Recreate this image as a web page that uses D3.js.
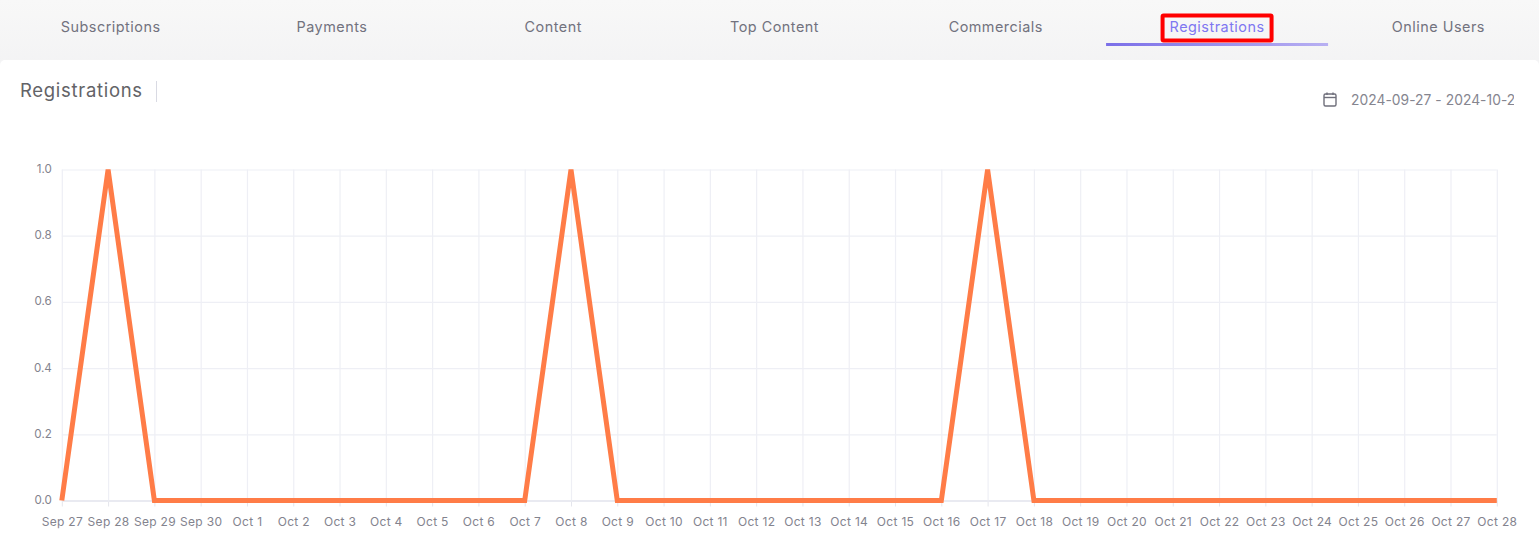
<!DOCTYPE html>
<html><head><meta charset="utf-8">
<script src="https://cdn.jsdelivr.net/npm/d3@7/dist/d3.min.js"></script>
<style>
html,body{margin:0;padding:0;background:#fff;overflow:hidden}
svg{display:block;font-family:Inter,"Open Sans",sans-serif}
</style></head><body><svg id="c" width="1539" height="554"></svg>
<script>
const tabs=["Subscriptions","Payments","Content","Top Content","Commercials","Registrations","Online Users"];
const activeTab="Registrations";
const title="Registrations";
const dateRange="2024-09-27 - 2024-10-27";
const categories=["Sep 27","Sep 28","Sep 29","Sep 30","Oct 1","Oct 2","Oct 3","Oct 4","Oct 5","Oct 6","Oct 7","Oct 8","Oct 9","Oct 10","Oct 11","Oct 12","Oct 13","Oct 14","Oct 15","Oct 16","Oct 17","Oct 18","Oct 19","Oct 20","Oct 21","Oct 22","Oct 23","Oct 24","Oct 25","Oct 26","Oct 27","Oct 28"];
const values=[0,1,0,0,0,0,0,0,0,0,0,1,0,0,0,0,0,0,0,0,1,0,0,0,0,0,0,0,0,0,0,0];
const yTicks=[0,0.2,0.4,0.6,0.8,1.0];

const svg=d3.select("#c");
const defs=svg.append("defs");
const bg=defs.append("linearGradient").attr("id","hdr").attr("x1",0).attr("x2",0).attr("y1",0).attr("y2",1);
bg.append("stop").attr("offset",0).attr("stop-color","#f8f8f8");
bg.append("stop").attr("offset",1).attr("stop-color","#f3f3f4");
const ug=defs.append("linearGradient").attr("id","ul");
ug.append("stop").attr("offset",0).attr("stop-color","#7b6fe8");
ug.append("stop").attr("offset",1).attr("stop-color","#b8b0f2");
svg.append("rect").attr("width",1539).attr("height",70).attr("fill","url(#hdr)");
svg.append("rect").attr("y",60).attr("width",1539).attr("height",494).attr("rx",5).attr("fill","#fff");

const tabX=d3.scaleBand().domain(tabs).range([0,1549]);
tabs.forEach(t=>{
  const cx=tabX(t)+tabX.bandwidth()/2;
  svg.append("text").attr("x",cx).attr("y",32).attr("text-anchor","middle")
    .attr("font-size",14.4).attr("letter-spacing",0.5).attr("fill",t===activeTab?"#7f77f1":"#72727e").text(t);
  if(t===activeTab){
    svg.append("rect").attr("x",cx-111).attr("y",43).attr("width",222).attr("height",3).attr("fill","url(#ul)");
    svg.append("rect").attr("x",cx-54.5).attr("y",15.5).attr("width",109).attr("height",25).attr("rx",1)
      .attr("fill","none").attr("stroke","#f00").attr("stroke-width",4);
  }
});
svg.append("text").attr("x",20).attr("y",97).attr("font-size",18.5).attr("letter-spacing",0.7).attr("fill","#636367").text(title);
svg.append("line").attr("x1",156.5).attr("x2",156.5).attr("y1",81).attr("y2",102).attr("stroke","#d9dae3");

// calendar icon
const cal=svg.append("g").attr("fill","none").attr("stroke","#6f6f7b").attr("stroke-width",1.4);
cal.append("rect").attr("x",1324).attr("y",94).attr("width",12).attr("height",12).attr("rx",1.5);
cal.append("line").attr("x1",1324).attr("x2",1336).attr("y1",97.5).attr("y2",97.5);
cal.append("line").attr("x1",1327).attr("x2",1327).attr("y1",92.5).attr("y2",95);
cal.append("line").attr("x1",1333).attr("x2",1333).attr("y1",92.5).attr("y2",95);
const clip=defs.append("clipPath").attr("id","dc");
clip.append("rect").attr("x",1340).attr("y",85).attr("width",174).attr("height",30);
svg.append("text").attr("x",1351).attr("y",105).attr("font-size",13.8).attr("letter-spacing",0.05)
  .attr("fill","#85858f").attr("clip-path","url(#dc)").text(dateRange);

const x=d3.scalePoint().domain(categories).range([61.8,1496.8]);
const y=d3.scaleLinear().domain([0,1]).range([500.5,169.5]);

const gx=svg.append("g").attr("transform","translate(0,500.5)")
  .call(d3.axisBottom(x).tickSize(-331).tickSizeOuter(0).tickPadding(17));
gx.select(".domain").attr("stroke","#e4e5ec").attr("stroke-width",2);
gx.selectAll(".tick line").attr("stroke","#eeeff5").attr("stroke-width",1.2);
gx.selectAll(".tick").append("line").attr("y1",0).attr("y2",6).attr("stroke","#e4e5ec");
gx.selectAll(".tick text").attr("font-size",12).attr("font-family","Inter,sans-serif").attr("letter-spacing",0.3).attr("fill","#83838e");

const gy=svg.append("g").attr("transform","translate(61.8,0)")
  .call(d3.axisLeft(y).tickValues(yTicks).tickFormat(d3.format(".1f")).tickSize(-1435).tickPadding(10));
gy.select(".domain").remove();
gy.selectAll(".tick line").attr("stroke","#eeeff5").attr("stroke-width",1.2);
gy.selectAll(".tick text").attr("font-size",11.6).attr("font-family","Inter,sans-serif").attr("fill","#83838e").attr("dy","0.25em");

const line=d3.line().x((d,i)=>x(categories[i])).y(d=>y(d));
svg.append("path").datum(values).attr("d",line).attr("fill","none")
  .attr("stroke","#ff7c47").attr("stroke-width",5).attr("stroke-linejoin","miter").attr("stroke-miterlimit",2);
</script></body></html>
